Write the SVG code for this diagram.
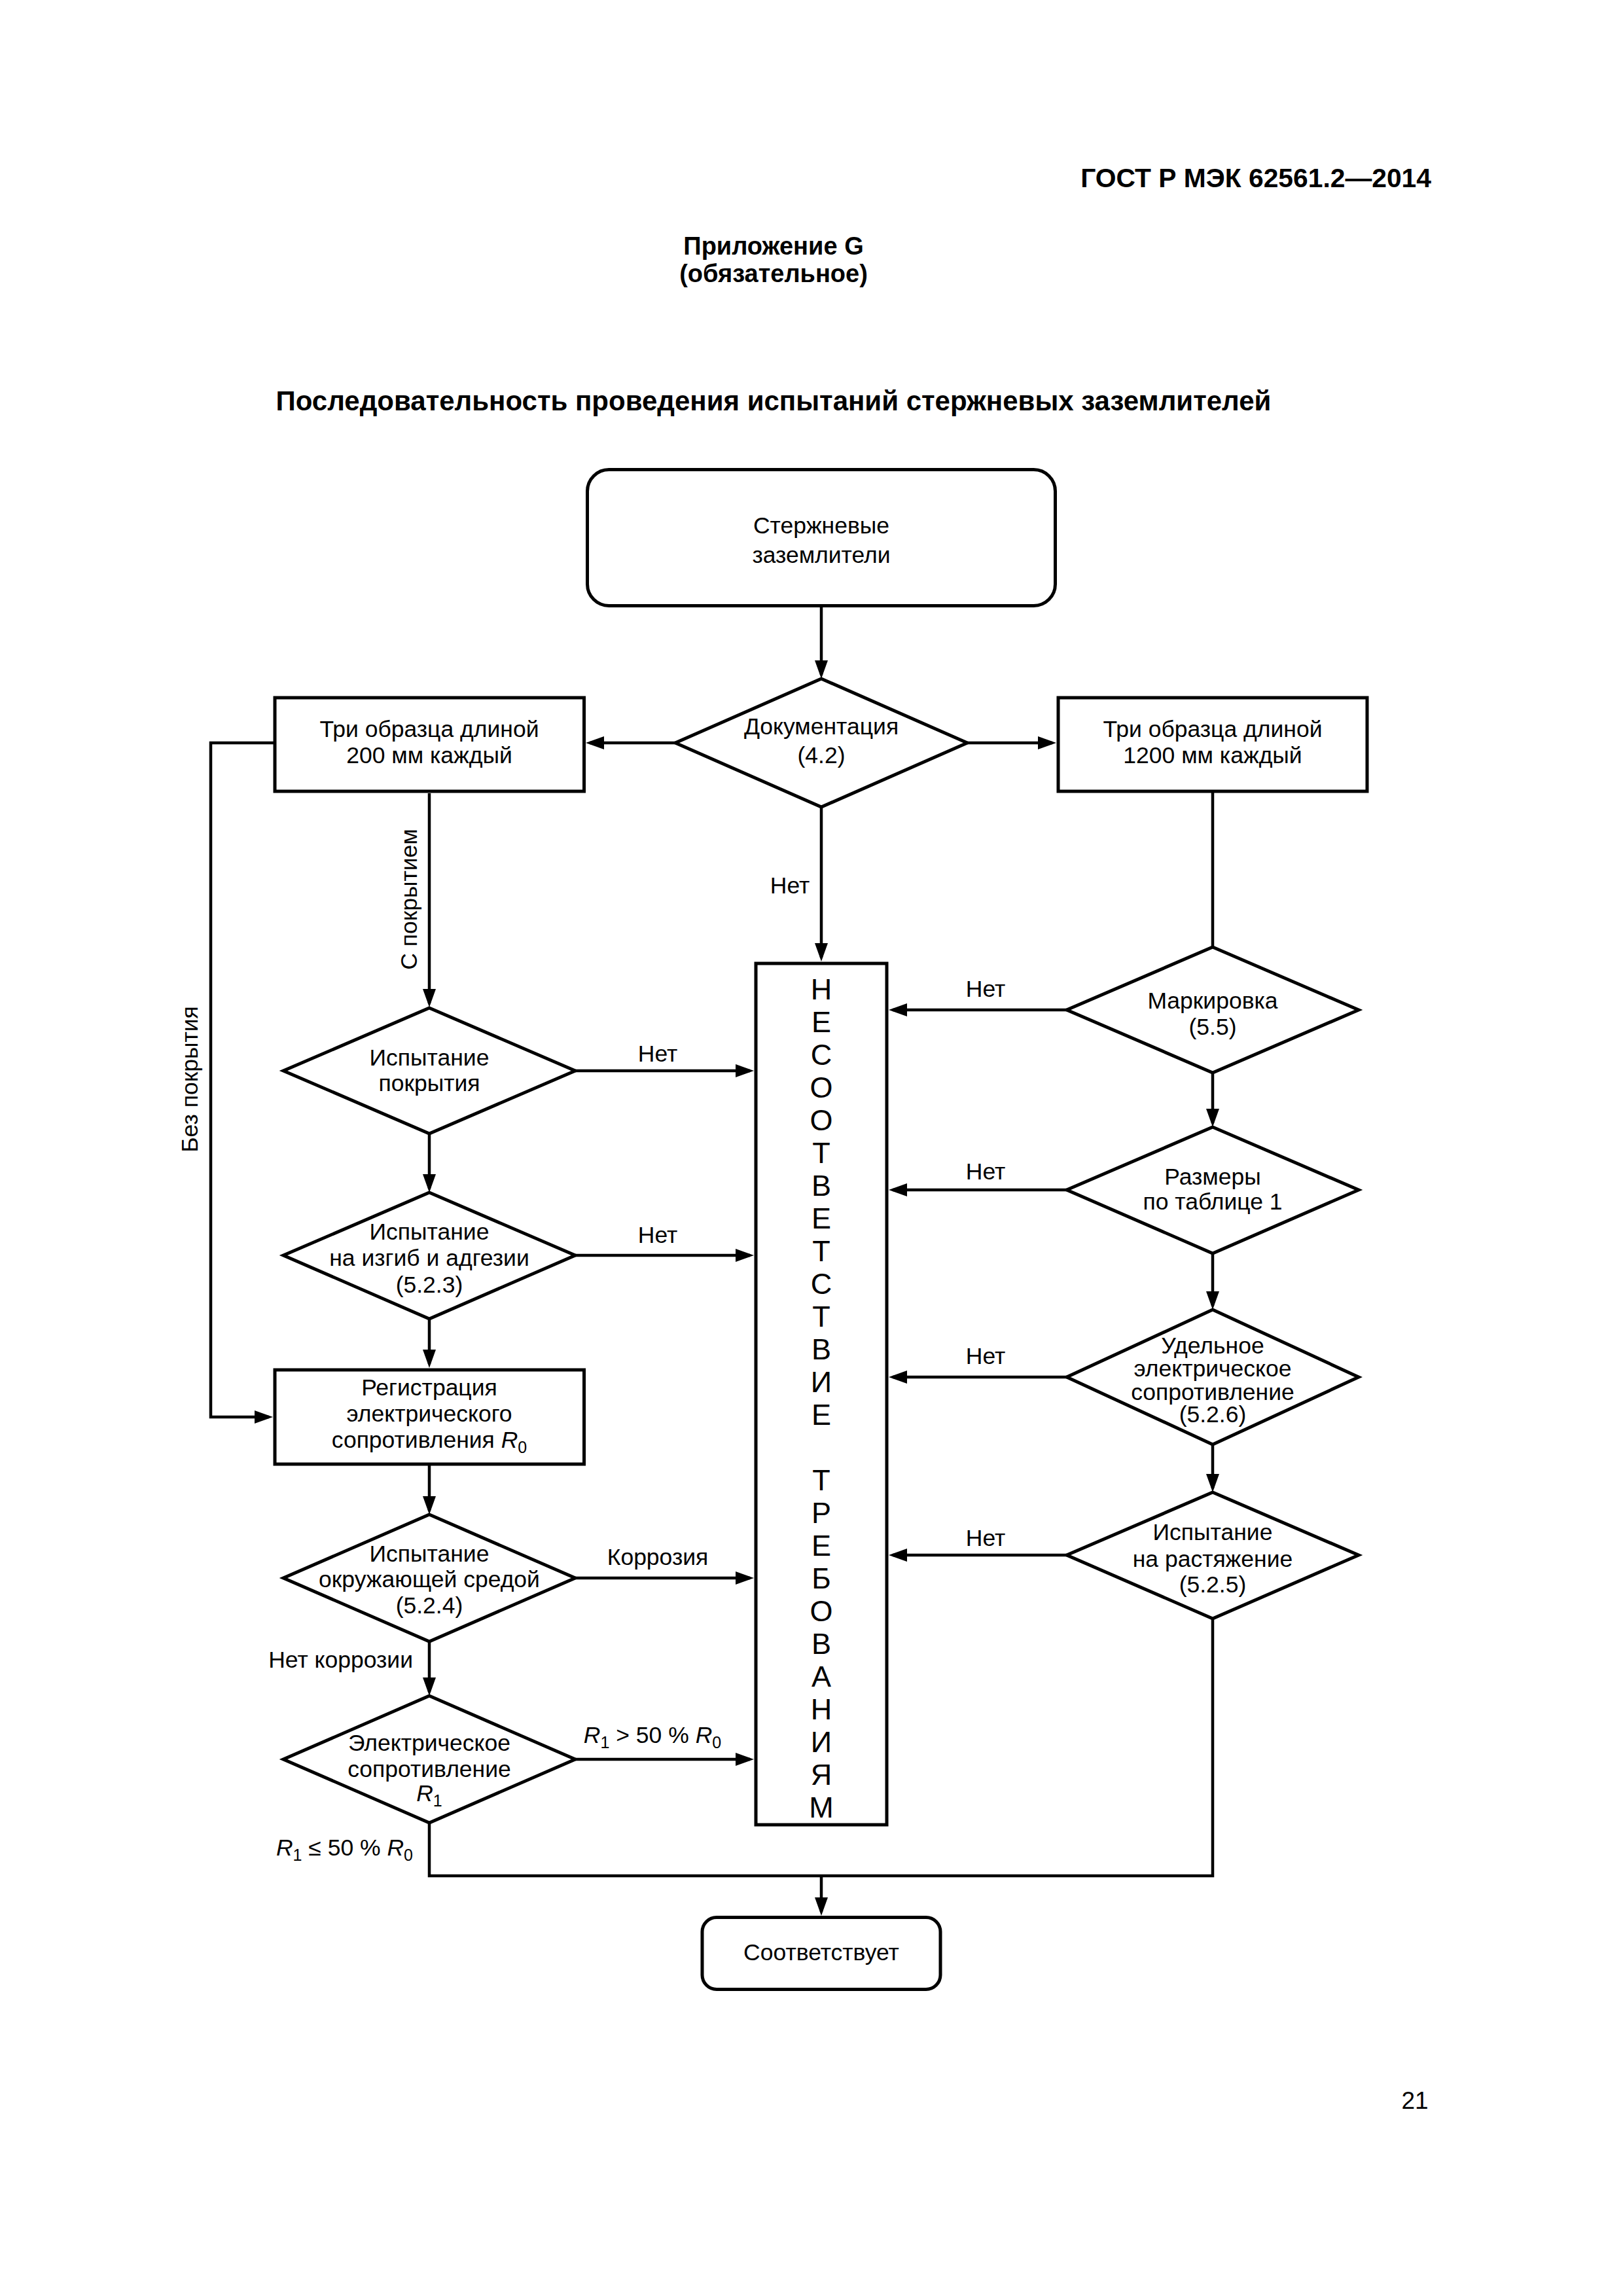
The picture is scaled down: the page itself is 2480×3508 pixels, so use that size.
<svg xmlns="http://www.w3.org/2000/svg" width="2480" height="3508" viewBox="0 0 2480 3508">
<defs>
<style>
text{font-family:"Liberation Sans",Arial,sans-serif;fill:#000}
.h{font-weight:bold}
.t{font-size:35.5px;text-anchor:middle}
.l{font-size:35.5px}
.big{font-size:45px;text-anchor:middle}
.n{fill:#fff;stroke:#000;stroke-width:5}
.c{fill:none;stroke:#000;stroke-width:4.5}
.a{marker-end:url(#ah)}
.i{font-style:italic}
.s{font-size:25px}
</style>
<marker id="ah" markerUnits="userSpaceOnUse" markerWidth="30" markerHeight="22" refX="22" refY="10" orient="auto">
<path d="M0,0 L28,10 L0,20 Z" fill="#000"/>
</marker>
</defs>
<rect width="2480" height="3508" fill="#fff"/>

<g id="header">
<text class="h" x="2187" y="286" font-size="40.8" text-anchor="end">ГОСТ Р МЭК 62561.2—2014</text>
<text class="h" x="1182" y="389" font-size="38" text-anchor="middle">Приложение G</text>
<text class="h" x="1182" y="431" font-size="38" text-anchor="middle">(обязательное)</text>
<text class="h" x="1182" y="627" font-size="42" text-anchor="middle">Последовательность проведения испытаний стержневых заземлителей</text>
<text x="2162" y="3222" font-size="37" text-anchor="middle">21</text>
</g>

<g id="connectors">
<path class="c a" d="M1255,928 L1255,1031"/>
<path class="c a" d="M1032,1135 L901,1135"/>
<path class="c a" d="M1478,1135 L1608,1135"/>
<path class="c a" d="M1255,1232 L1255,1463"/>
<path class="c a" d="M656,1212 L656,1533"/>
<path class="c a" d="M879,1636 L1146,1636"/>
<path class="c a" d="M656,1731 L656,1816"/>
<path class="c a" d="M879,1918 L1146,1918"/>
<path class="c a" d="M656,2014 L656,2084"/>
<path class="c a" d="M420,1135 L322,1135 L322,2165 L411,2165"/>
<path class="c a" d="M656,2239 L656,2308"/>
<path class="c a" d="M879,2411 L1146,2411"/>
<path class="c a" d="M656,2508 L656,2585"/>
<path class="c a" d="M879,2688 L1146,2688"/>
<path class="c" d="M656,2784 L656,2866 L1853,2866 L1853,2473"/>
<path class="c a" d="M1255,2866 L1255,2921"/>
<path class="c" d="M1853,1209 L1853,1447"/>
<path class="c a" d="M1630,1543 L1364,1543"/>
<path class="c a" d="M1853,1639 L1853,1716"/>
<path class="c a" d="M1630,1818 L1364,1818"/>
<path class="c a" d="M1853,1915 L1853,1995"/>
<path class="c a" d="M1630,2104 L1364,2104"/>
<path class="c a" d="M1853,2207 L1853,2274"/>
<path class="c a" d="M1630,2376 L1364,2376"/>
<text class="l" x="1207" y="1365" text-anchor="middle">Нет</text>
<text class="l" x="1005" y="1622" text-anchor="middle">Нет</text>
<text class="l" x="1005" y="1899" text-anchor="middle">Нет</text>
<text class="l" x="1005" y="2391" text-anchor="middle">Коррозия</text>
<text class="l" x="997" y="2663" text-anchor="middle"><tspan class="i">R</tspan><tspan class="s" dy="8">1</tspan><tspan dy="-8"> &gt; 50 % </tspan><tspan class="i">R</tspan><tspan class="s" dy="8">0</tspan></text>
<text class="l" x="631" y="2548" text-anchor="end">Нет коррозии</text>
<text class="l" x="631" y="2835" text-anchor="end"><tspan class="i">R</tspan><tspan class="s" dy="8">1</tspan><tspan dy="-8"> ≤ 50 % </tspan><tspan class="i">R</tspan><tspan class="s" dy="8">0</tspan></text>
<text class="l" x="1506" y="1523" text-anchor="middle">Нет</text>
<text class="l" x="1506" y="1802" text-anchor="middle">Нет</text>
<text class="l" x="1506" y="2084" text-anchor="middle">Нет</text>
<text class="l" x="1506" y="2362" text-anchor="middle">Нет</text>
<text class="l" transform="translate(637,1374) rotate(-90)" text-anchor="middle">С покрытием</text>
<text class="l" transform="translate(302,1649) rotate(-90)" text-anchor="middle">Без покрытия</text>
</g>

<g id="start">
<rect class="n" x="897.5" y="717.5" width="715" height="208" rx="33"/>
<text class="t" x="1255" y="815">Стержневые</text>
<text class="t" x="1255" y="860">заземлители</text>
</g>

<g id="doc">
<polygon class="n" points="1255,1037 1478,1135 1255,1233 1032,1135"/>
<text class="t" x="1255" y="1122">Документация</text>
<text class="t" x="1255" y="1166">(4.2)</text>
</g>

<g id="samples200">
<rect class="n" x="420" y="1066" width="472.5" height="143"/>
<text class="t" x="656" y="1126">Три образца длиной</text>
<text class="t" x="656" y="1166">200 мм каждый</text>
</g>

<g id="samples1200">
<rect class="n" x="1617" y="1066" width="472" height="143"/>
<text class="t" x="1853" y="1126">Три образца длиной</text>
<text class="t" x="1853" y="1166">1200 мм каждый</text>
</g>

<g id="nonconform">
<rect class="n" x="1155" y="1472" width="200" height="1316"/>
<text class="big">
<tspan x="1255" y="1527">Н</tspan><tspan x="1255" y="1577">Е</tspan><tspan x="1255" y="1627">С</tspan><tspan x="1255" y="1677">О</tspan><tspan x="1255" y="1727">О</tspan><tspan x="1255" y="1777">Т</tspan><tspan x="1255" y="1827">В</tspan><tspan x="1255" y="1877">Е</tspan><tspan x="1255" y="1927">Т</tspan><tspan x="1255" y="1977">С</tspan><tspan x="1255" y="2027">Т</tspan><tspan x="1255" y="2077">В</tspan><tspan x="1255" y="2127">И</tspan><tspan x="1255" y="2177">Е</tspan><tspan x="1255" y="2277">Т</tspan><tspan x="1255" y="2327">Р</tspan><tspan x="1255" y="2377">Е</tspan><tspan x="1255" y="2427">Б</tspan><tspan x="1255" y="2477">О</tspan><tspan x="1255" y="2527">В</tspan><tspan x="1255" y="2577">А</tspan><tspan x="1255" y="2627">Н</tspan><tspan x="1255" y="2677">И</tspan><tspan x="1255" y="2727">Я</tspan><tspan x="1255" y="2777">М</tspan>
</text>
</g>

<g id="coating">
<polygon class="n" points="656,1540 879,1636 656,1732 433,1636"/>
<text class="t" x="656" y="1628">Испытание</text>
<text class="t" x="656" y="1667">покрытия</text>
</g>

<g id="bend">
<polygon class="n" points="656,1822 879,1918 656,2015 433,1918"/>
<text class="t" x="656" y="1894">Испытание</text>
<text class="t" x="656" y="1934">на изгиб и адгезии</text>
<text class="t" x="656" y="1975">(5.2.3)</text>
</g>

<g id="register">
<rect class="n" x="420" y="2093" width="472.5" height="144"/>
<text class="t" x="656" y="2132">Регистрация</text>
<text class="t" x="656" y="2172">электрического</text>
<text class="t" x="656" y="2212">сопротивления <tspan class="i">R</tspan><tspan class="s" dy="8">0</tspan></text>
</g>

<g id="environment">
<polygon class="n" points="656,2314 879,2411 656,2508 433,2411"/>
<text class="t" x="656" y="2386">Испытание</text>
<text class="t" x="656" y="2425">окружающей средой</text>
<text class="t" x="656" y="2465">(5.2.4)</text>
</g>

<g id="resistance">
<polygon class="n" points="656,2591 879,2688 656,2785 433,2688"/>
<text class="t" x="656" y="2675">Электрическое</text>
<text class="t" x="656" y="2715">сопротивление</text>
<text class="t" x="656" y="2752"><tspan class="i">R</tspan><tspan class="s" dy="8">1</tspan></text>
</g>

<g id="marking">
<polygon class="n" points="1853,1447 2076,1543 1853,1639 1630,1543"/>
<text class="t" x="1853" y="1541">Маркировка</text>
<text class="t" x="1853" y="1581">(5.5)</text>
</g>

<g id="dimensions">
<polygon class="n" points="1853,1722 2076,1818 1853,1915 1630,1818"/>
<text class="t" x="1853" y="1810">Размеры</text>
<text class="t" x="1853" y="1848">по таблице 1</text>
</g>

<g id="resistivity">
<polygon class="n" points="1853,2001 2076,2104 1853,2207 1630,2104"/>
<text class="t" x="1853" y="2068">Удельное</text>
<text class="t" x="1853" y="2103">электрическое</text>
<text class="t" x="1853" y="2139">сопротивление</text>
<text class="t" x="1853" y="2173">(5.2.6)</text>
</g>

<g id="tensile">
<polygon class="n" points="1853,2280 2076,2376 1853,2473 1630,2376"/>
<text class="t" x="1853" y="2353">Испытание</text>
<text class="t" x="1853" y="2394">на растяжение</text>
<text class="t" x="1853" y="2433">(5.2.5)</text>
</g>

<g id="conform">
<rect class="n" x="1073" y="2929.5" width="364" height="110" rx="22"/>
<text class="t" x="1255" y="2995">Соответствует</text>
</g>
</svg>
